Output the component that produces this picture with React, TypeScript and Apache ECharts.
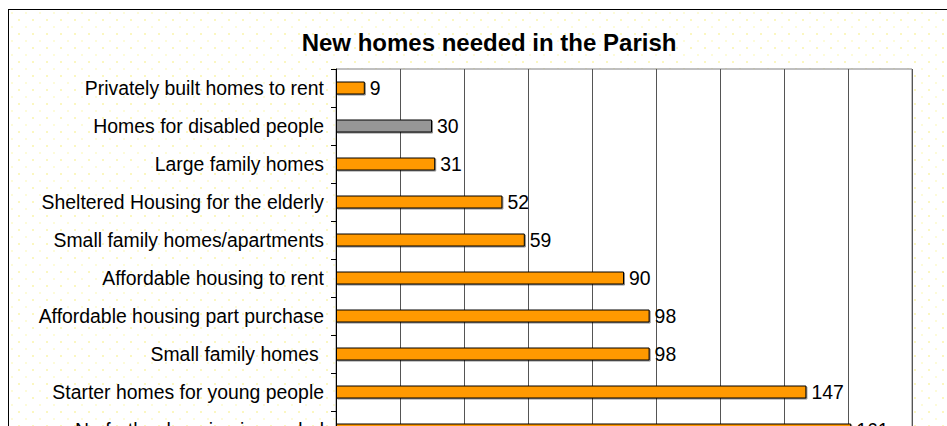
import React, { useEffect, useRef } from "react";
import * as echarts from "echarts";

const categories = [
  "Privately built homes to rent",
  "Homes for disabled people",
  "Large family homes",
  "Sheltered Housing for the elderly",
  "Small family homes/apartments",
  "Affordable housing to rent",
  "Affordable housing part purchase",
  "Small family homes ",
  "Starter homes for young people",
  "No further housing is needed",
];
const values = [9, 30, 31, 52, 59, 90, 98, 98, 147, 161];
const highlightIndex = 1;
const titleText = "New homes needed in the Parish";

const FONT = "'Liberation Sans', Arial, Helvetica, sans-serif";

export default function App() {
  const ref = useRef<HTMLDivElement>(null);
  useEffect(() => {
    if (!ref.current) return;
    const chart = echarts.init(ref.current, null, { renderer: "svg" });
    chart.setOption({
      animation: false,
      backgroundColor: "transparent",
      title: {
        text: titleText,
        left: 484,
        top: 25,
        textAlign: "center",
        textStyle: { fontFamily: FONT, fontSize: 24, fontWeight: "bold", color: "#000" },
      },
      grid: {
        left: 336,
        top: 69,
        width: 576,
        height: 380,
        show: true,
        backgroundColor: "#ffffff",
        borderColor: "#808080",
        borderWidth: 1,
      },
      xAxis: {
        type: "value",
        min: 0,
        max: 180,
        interval: 20,
        axisLine: { show: false },
        axisTick: { show: false },
        axisLabel: { show: false },
        splitLine: { show: true, lineStyle: { color: "#555", width: 1 } },
      },
      yAxis: {
        type: "category",
        inverse: true,
        data: categories,
        axisLine: { show: true, lineStyle: { color: "#000", width: 1 } },
        axisTick: { show: true, length: 5, lineStyle: { color: "#000" } },
        axisLabel: { fontFamily: FONT, fontSize: 19.4, color: "#000", margin: 12 },
      },
      series: [
        {
          type: "bar",
          barWidth: 13,
          data: values.map((v, i) => ({
            value: v,
            itemStyle: { color: i === highlightIndex ? "#969696" : "#FF9900" },
          })),
          itemStyle: {
            borderColor: "#000",
            borderWidth: 1,
            shadowColor: "rgba(0,0,0,0.45)",
            shadowOffsetX: 1,
            shadowOffsetY: 1,
            shadowBlur: 0,
          },
          label: {
            show: true,
            position: "right",
            distance: 5,
            fontFamily: FONT,
            fontSize: 19.4,
            color: "#000",
          },
        },
      ],
    });
    return () => chart.dispose();
  }, []);

  return (
    <div
      style={{
        position: "fixed",
        left: 0,
        top: 0,
        width: 947,
        height: 426,
        overflow: "hidden",
        background: "#fff",
      }}
    >
      <div
        style={{
          position: "absolute",
          left: 8,
          top: 9,
          width: 1000,
          height: 600,
          border: "1px solid #000",
          backgroundColor: "#ffffff",
          backgroundImage:
            "radial-gradient(circle, #fbf7c0 0.9px, transparent 1.2px), radial-gradient(circle, #fdfbd8 0.9px, transparent 1.2px)",
          backgroundSize: "14px 14px, 14px 14px",
          backgroundPosition: "3px 3px, 10px 10px",
        }}
      />
      <div ref={ref} style={{ position: "absolute", left: 0, top: 0, width: 947, height: 520 }} />
    </div>
  );
}
